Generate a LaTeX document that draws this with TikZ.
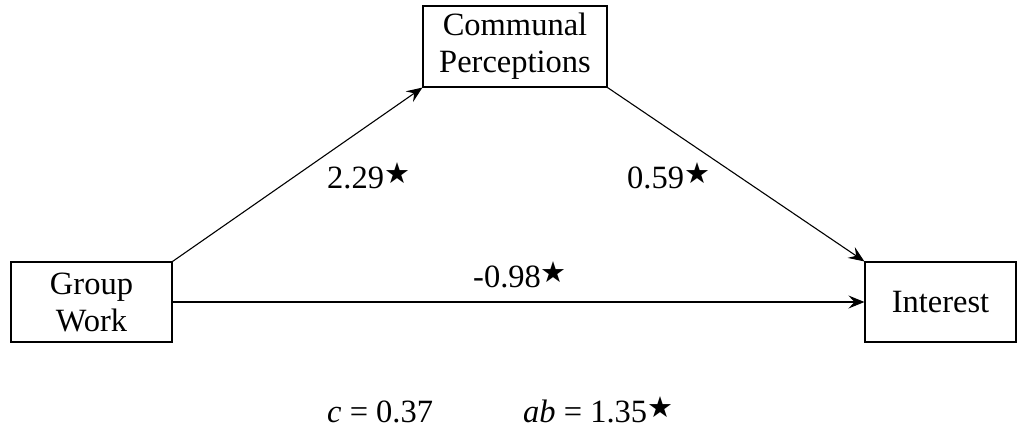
\documentclass[tikz,border=0pt]{standalone}
\usepackage{fontspec}
\setmainfont{Liberation Serif}
\newfontfamily\starfont{DejaVu Sans}
\usetikzlibrary{arrows.meta}
\newcommand{\sig}{\raisebox{5pt}{\fontsize{29}{29}\selectfont\starfont ★}}
\begin{document}
\begin{tikzpicture}[x=1pt,y=-1pt,
  every node/.style={font=\fontsize{32.5}{37}\selectfont},
  varbox/.style={draw,line width=1.1pt,inner sep=0pt,align=center},
  path/.style={line width=1.1pt,-{Stealth[length=16pt,width=13pt,inset=6pt]}},
  lbl/.style={anchor=base west,inner sep=0pt}]
\useasboundingbox (0,0) rectangle (1018,429);
\node[varbox,minimum width=161pt,minimum height=80pt] (gw) at (91.5,302) {Group\\Work};
\node[varbox,minimum width=184pt,minimum height=81pt] (cp) at (515,46.5) {Communal\\Perceptions};
\node[varbox,minimum width=151pt,minimum height=80pt] (in) at (940.5,302) {Interest};
\draw[path] (gw.north east) -- (cp.south west);
\draw[path] (cp.south east) -- (in.north west);
\draw[path] (gw.east) -- (in.west);
\node[lbl] (a) at (327,188) {2.29\sig};
\node[lbl] (b) at (627,188) {0.59\sig};
\node[lbl] (cprime) at (473,287) {-0.98\sig};
\node[lbl] (c) at (327,422) {\textit{c} = 0.37};
\node[lbl] (ab) at (523,422) {\textit{ab} = 1.35\sig};
\end{tikzpicture}
\end{document}
